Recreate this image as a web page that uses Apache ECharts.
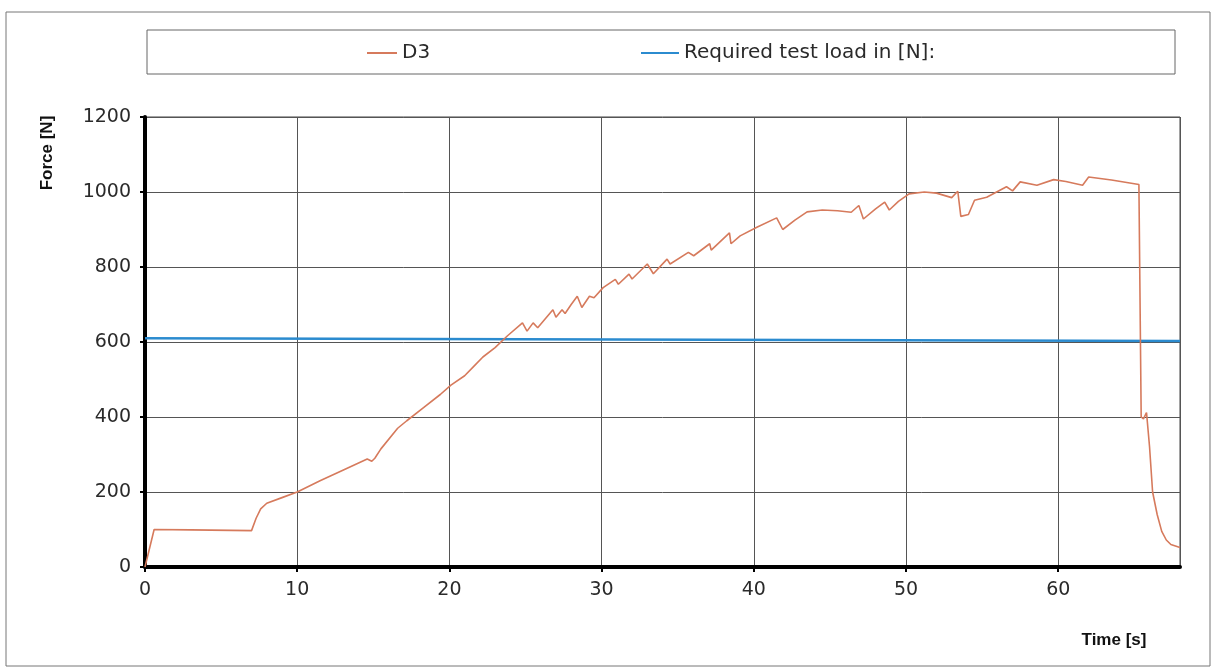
<!DOCTYPE html>
<html>
<head>
<meta charset="utf-8">
<script src="https://cdn.jsdelivr.net/npm/echarts@6/dist/echarts.min.js"></script>
<style>html,body{margin:0;padding:0;background:#fff;}#c{width:1216px;height:671px;}</style>
</head>
<body>
<div id="c"></div>
<script>
// D3 measured force curve
var d3Time  = [0, 0.6, 3, 7.0, 7.3, 7.6, 8.0, 9, 10, 11.5, 13, 14.6, 14.9, 15.1, 15.5, 16.6, 17.2, 18.3, 19.4, 20.1, 21, 21.6, 22.2, 23, 23.8, 24.8, 25.1, 25.5, 25.8, 26.3, 26.8, 27.0, 27.4, 27.6, 28.0, 28.4, 28.7, 29.2, 29.5, 30.1, 30.9, 31.1, 31.8, 32.0, 33.0, 33.4, 34.3, 34.5, 35.7, 36.05, 37.1, 37.2, 38.4, 38.5, 39.1, 40.2, 41.5, 41.9, 42.7, 43.5, 44.5, 45.5, 46.4, 46.9, 47.2, 48.0, 48.6, 48.9, 49.5, 50.2, 51.2, 52.0, 53.0, 53.4, 53.6, 54.1, 54.5, 55.3, 56.6, 57.0, 57.5, 58.6, 59.7, 60.5, 61.6, 62.0, 63.5, 65.3, 65.45, 65.6, 65.8, 66.0, 66.2, 66.5, 66.8, 67.1, 67.4, 68.0];
var d3Force = [0, 100, 99, 97, 130, 155, 170, 185, 200, 230, 258, 288, 282, 290, 315, 370, 390, 425, 460, 485, 510, 535, 560, 585, 616, 651, 629, 651, 638, 662, 686, 666, 686, 676, 700, 722, 692, 722, 718, 745, 767, 754, 781, 768, 808, 782, 821, 808, 839, 830, 862, 845, 891, 862, 883, 906, 931, 900, 925, 947, 952, 950, 946, 964, 928, 955, 973, 952, 975, 995, 1000, 997, 985, 1002, 935, 940, 978, 986, 1014, 1003, 1027, 1018, 1033, 1028, 1018, 1040, 1032, 1020, 400, 395, 412, 320, 200, 140, 95, 72, 60, 52];
// Required test load
var reqTime  = [0, 68];
var reqForce = [610, 603];
// axis ticks
var xTicks = [0, 10, 20, 30, 40, 50, 60];
var yTicks = [0, 200, 400, 600, 800, 1000, 1200];

function pairs(a, b) { return a.map(function (v, i) { return [v, b[i]]; }); }

var chart = echarts.init(document.getElementById('c'), null, {renderer: 'canvas'});
var txt = '#2a2a2a';
chart.setOption({
  backgroundColor: '#fff',
  animation: false,
  grid: {left: 145, right: 36, top: 117, bottom: 104, show: true, borderColor: '#444', borderWidth: 1},
  legend: [
    {data: ['D3'], left: 362, top: 38, icon: 'rect', itemWidth: 30, itemHeight: 2, itemGap: 4,
     textStyle: {fontFamily: 'DejaVu Sans', fontSize: 20, color: txt}},
    {data: ['Required test load in [N]:'], left: 636, top: 38, icon: 'rect', itemWidth: 38, itemHeight: 2, itemGap: 4,
     textStyle: {fontFamily: 'DejaVu Sans', fontSize: 20, color: txt}}
  ],
  xAxis: {
    type: 'value', min: 0, max: 68, interval: 10,
    axisLine: {show: true, onZero: false, lineStyle: {color: '#000', width: 4}},
    axisTick: {show: true, length: 5, lineStyle: {color: '#000', width: 2}},
    axisLabel: {show: true, showMaxLabel: false, margin: 14, fontFamily: 'DejaVu Sans', fontSize: 19, color: txt,
      formatter: function (v) { return xTicks.indexOf(v) >= 0 ? String(v) : ''; }},
    splitLine: {show: true, lineStyle: {color: '#555', width: 1}}
  },
  yAxis: {
    type: 'value', min: 0, max: 1200, interval: 200,
    axisLine: {show: true, lineStyle: {color: '#000', width: 4}},
    axisTick: {show: true, length: 5, lineStyle: {color: '#000', width: 2}},
    axisLabel: {show: true, margin: 14, fontFamily: 'DejaVu Sans', fontSize: 19, color: txt,
      formatter: function (v) { return yTicks.indexOf(v) >= 0 ? String(v) : ''; }},
    splitLine: {show: true, lineStyle: {color: '#555', width: 1}}
  },
  series: [
    {name: 'D3', type: 'line', data: pairs(d3Time, d3Force), showSymbol: false, symbol: 'none',
     lineStyle: {color: '#d67a5c', width: 1.6}, itemStyle: {color: '#d67a5c'}, z: 3},
    {name: 'Required test load in [N]:', type: 'line', data: pairs(reqTime, reqForce), showSymbol: false, symbol: 'none',
     lineStyle: {color: '#2b8bcf', width: 2.5}, itemStyle: {color: '#2b8bcf'}, z: 2}
  ],
  graphic: [
    {type: 'rect', shape: {x: 6, y: 12, width: 1204, height: 654}, style: {fill: 'none', stroke: '#777', lineWidth: 1}, silent: true, z: -1},
    {type: 'rect', shape: {x: 147, y: 30, width: 1028, height: 44}, style: {fill: 'none', stroke: '#666', lineWidth: 1}, silent: true},
    {type: 'text', x: 47, y: 153, rotation: Math.PI / 2,
     style: {text: 'Force [N]', fontFamily: 'Liberation Sans', fontWeight: 'bold', fontSize: 17, fill: '#111', textAlign: 'center', textVerticalAlign: 'middle'}},
    {type: 'text', x: 1114, y: 640,
     style: {text: 'Time [s]', fontFamily: 'Liberation Sans', fontWeight: 'bold', fontSize: 17, fill: '#111', textAlign: 'center', textVerticalAlign: 'middle'}}
  ]
});
</script>
</body>
</html>
